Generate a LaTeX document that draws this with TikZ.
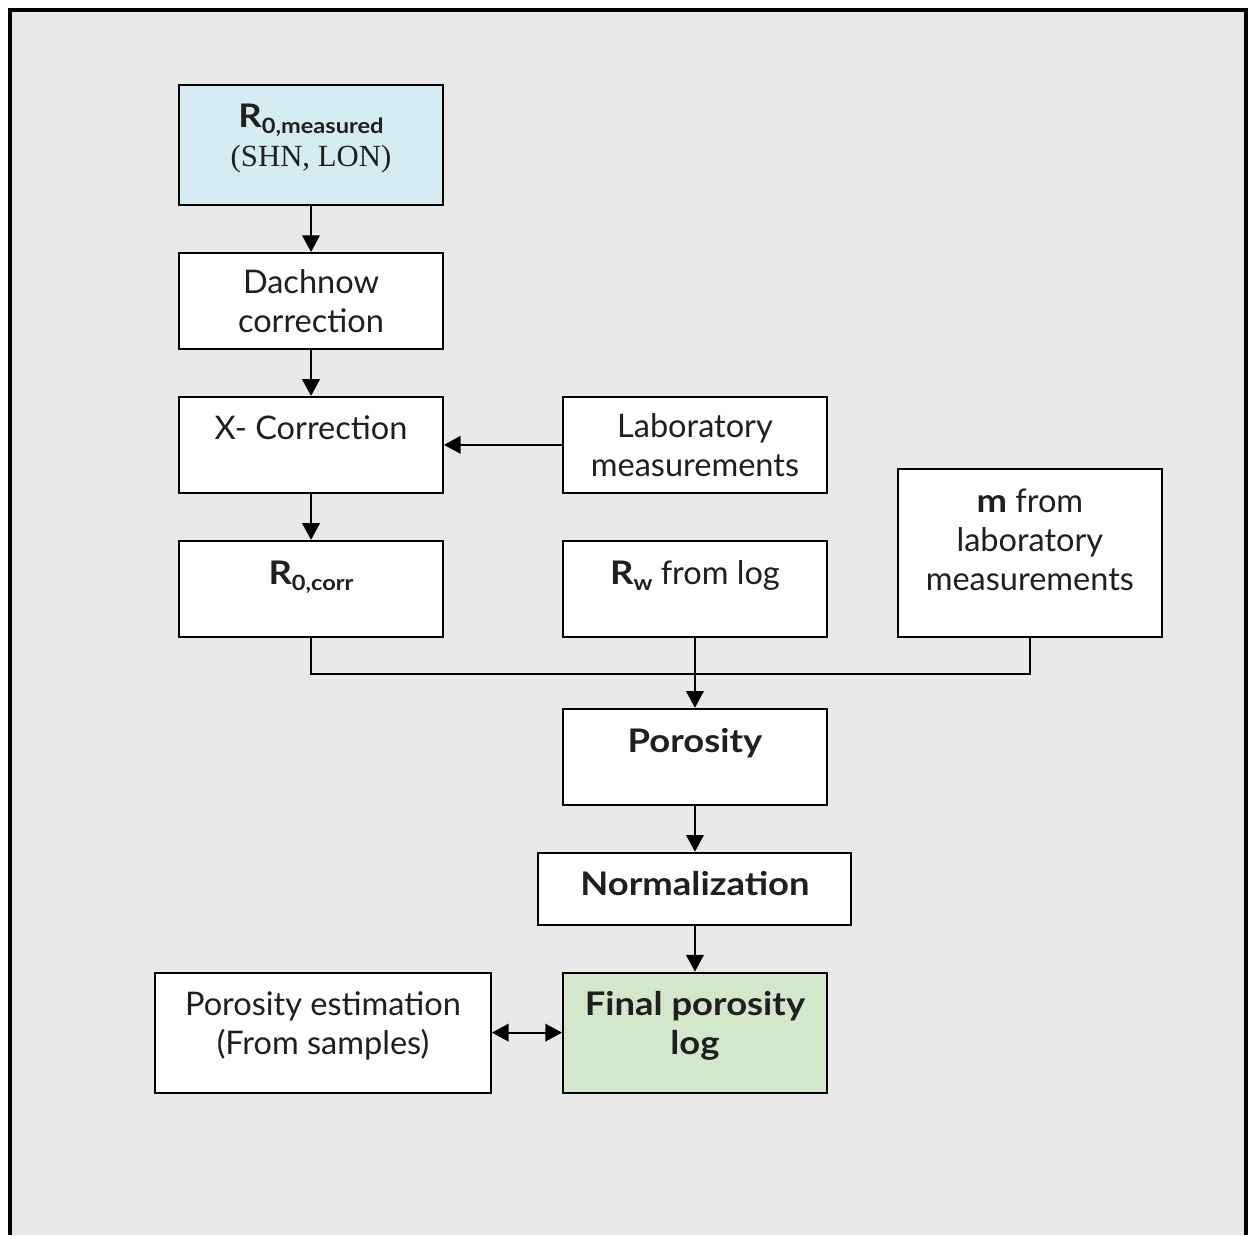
\documentclass[tikz,border=0pt]{standalone}
\usepackage{fontspec}
\setmainfont{Lato}[BoldFeatures={FakeStretch=1.12}]
\newfontfamily\timesfont{Liberation Serif}
\usetikzlibrary{arrows.meta, positioning}
\definecolor{bggray}{HTML}{E9E9E9}
\definecolor{inblue}{HTML}{D5ECF3}
\definecolor{outgreen}{HTML}{D3E8CB}
\newcommand{\subtx}[1]{\raisebox{-0.35ex}{\fontsize{12}{12}\selectfont\bfseries #1}}
\tikzset{
  box/.style  = {draw, rectangle, fill=white, align=center, line width=1.1pt,
                 minimum width=5.28cm, minimum height=1.92cm, inner sep=2pt,
                 font=\fontsize{18.5}{22.2}\selectfont, text=black!88},
  lift/.style 2 args = {text height=#1, text depth=#2},
  arr/.style  = {-{Triangle[length=9.5pt, width=10pt]}, line width=1.1pt},
  darr/.style = {{Triangle[length=9.5pt, width=10pt]}-{Triangle[length=9.5pt, width=10pt]},
                 line width=1.1pt},
  link/.style = {line width=1.1pt},
  node distance = 0.92cm and 2.36cm
}

\begin{document}
\begin{tikzpicture}

  \useasboundingbox (0,0) rectangle (25.04,-24.7);

  % -- background and frame --------------------------------------------------
  \fill[bggray] (0.18,-0.18) rectangle (24.94,-24.7);
  \draw[line width=2.2pt] (0.2,-24.7) -- (0.2,-0.2) -- (24.92,-0.2) -- (24.92,-24.7);

  % -- left column: resistivity corrections -----------------------------------
  \node[box, fill=inblue, minimum height=2.4cm, lift={1.28cm}{0.42cm}] (meas) at (6.22,-2.9)
        {\bfseries R\subtx{0,measured}\\{\timesfont\fontsize{17.5}{22.2}\selectfont (SHN, LON)}};
  \node[box, below=of meas]                          (dach)  {Dachnow\\correction};
  \node[box, lift={5mm}{0.72cm}, below=of dach]      (xcorr) {X- Correction};
  \node[box, lift={5mm}{0.68cm}, below=of xcorr]     (rcorr) {\bfseries R\subtx{0,corr}};

  % -- inputs from the right --------------------------------------------------
  \node[box, right=of xcorr]                         (lab)   {Laboratory\\measurements};
  \node[box, lift={5mm}{0.68cm}, right=of rcorr]     (rw)    {{\bfseries R\subtx{w}} from log};
  \node[box, minimum height=3.36cm, lift={2.06cm}{0.56cm},
        above right=0cm and 1.38cm of rw.south east] (mlab)
        {{\bfseries m} from\\laboratory\\measurements};

  % -- porosity chain ---------------------------------------------------------
  \node[box, lift={5mm}{0.68cm}, below=1.40cm of rw]  (poro)  {\bfseries Porosity};
  \node[box, minimum width=6.26cm, minimum height=1.44cm, lift={5mm}{0.24cm},
        below=of poro]                                (norm)  {\bfseries Normalization};
  \node[box, fill=outgreen, minimum height=2.4cm, lift={1.28cm}{0.40cm},
        below=of norm]                                (final) {\bfseries Final porosity\\\bfseries log};
  \node[box, minimum width=6.72cm, minimum height=2.4cm, lift={1.28cm}{0.40cm},
        left=1.40cm of final]                         (est)   {Porosity estimation\\(From samples)};

  % -- connections ------------------------------------------------------------
  \draw[arr] (meas)  -- (dach);
  \draw[arr] (dach)  -- (xcorr);
  \draw[arr] (lab)   -- (xcorr);
  \draw[arr] (xcorr) -- (rcorr);

  \coordinate[below=0.72cm of rw.south] (join);
  \draw[link] (rcorr.south) |- (join) -| (mlab.south);
  \draw[arr] (rw) -- (poro);

  \draw[arr]  (poro) -- (norm);
  \draw[arr]  (norm) -- (final);
  \draw[darr] (est)  -- (final);

\end{tikzpicture}
\end{document}
